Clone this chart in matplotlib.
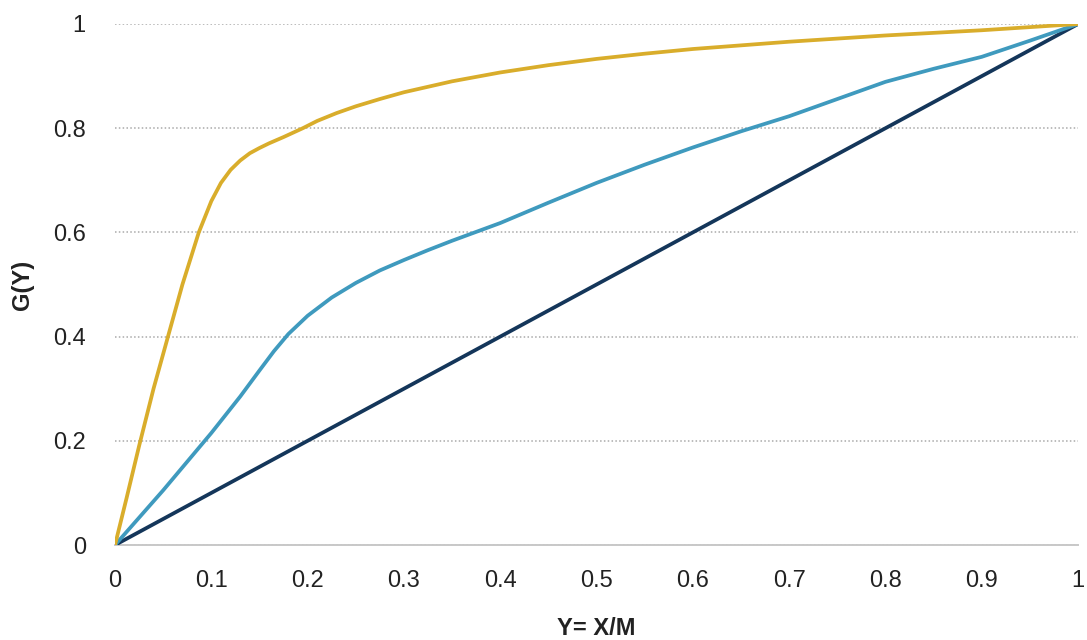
import matplotlib
matplotlib.use('Agg')
import matplotlib.pyplot as plt

# values
x_gold = [0, 0.012, 0.025, 0.04, 0.055, 0.07, 0.087, 0.1, 0.11, 0.12, 0.13, 0.14, 0.15,
          0.16, 0.175, 0.195, 0.21, 0.23, 0.25, 0.275, 0.3, 0.35, 0.4, 0.45, 0.5, 0.55,
          0.6, 0.7, 0.8, 0.9, 0.95, 1.0]
g_gold = [0, 0.09, 0.19, 0.30, 0.40, 0.50, 0.60, 0.66, 0.695, 0.72, 0.738, 0.752, 0.762,
          0.771, 0.783, 0.80, 0.814, 0.829, 0.842, 0.856, 0.869, 0.89, 0.907, 0.921, 0.933, 0.943,
          0.952, 0.966, 0.978, 0.988, 0.994, 1.0]

x_teal = [0, 0.05, 0.1, 0.13, 0.15, 0.165, 0.18, 0.2, 0.225, 0.25, 0.275, 0.3, 0.325, 0.35,
          0.4, 0.45, 0.5, 0.55, 0.6, 0.65, 0.7, 0.75, 0.8, 0.85, 0.9, 0.95, 1.0]
g_teal = [0, 0.105, 0.215, 0.285, 0.335, 0.372, 0.405, 0.44, 0.475, 0.503, 0.527, 0.547, 0.566, 0.584,
          0.618, 0.657, 0.695, 0.73, 0.763, 0.794, 0.823, 0.856, 0.889, 0.914, 0.937, 0.968, 1.0]

x_diag = [0, 1.0]
g_diag = [0, 1.0]

xticks = [0, 0.1, 0.2, 0.3, 0.4, 0.5, 0.6, 0.7, 0.8, 0.9, 1]
xtick_labels = ['0', '0.1', '0.2', '0.3', '0.4', '0.5', '0.6', '0.7', '0.8', '0.9', '1']
yticks = [0, 0.2, 0.4, 0.6, 0.8, 1]
ytick_labels = ['0', '0.2', '0.4', '0.6', '0.8', '1']

GOLD = '#D9AD2B'
TEAL = '#3F9ABE'
NAVY = '#14365A'

plt.rcParams['font.family'] = ['Liberation Sans', 'DejaVu Sans']

fig = plt.figure(figsize=(10.87, 6.40), dpi=100)
ax = fig.add_axes([0.1058, 0.1484, 0.886, 0.8141])

ax.plot(x_diag, g_diag, color=NAVY, lw=2.7, solid_capstyle='round', zorder=3)
ax.plot(x_teal, g_teal, color=TEAL, lw=2.7, solid_capstyle='round', zorder=4)
ax.plot(x_gold, g_gold, color=GOLD, lw=2.7, solid_capstyle='round', zorder=5)

ax.set_xlim(0, 1)
ax.set_ylim(0, 1)
ax.set_xticks(xticks)
ax.set_xticklabels(xtick_labels)
ax.set_yticks(yticks)
ax.set_yticklabels(ytick_labels)
ax.tick_params(axis='both', length=0, labelsize=17, colors='#222222')
ax.tick_params(axis='x', pad=18)
ax.tick_params(axis='y', pad=21)

ax.grid(axis='y', color='#aaaaaa', linestyle=(0, (1, 1.5)), linewidth=1.1)
ax.set_axisbelow(True)
for s in ['top', 'right', 'left']:
    ax.spines[s].set_visible(False)
ax.spines['bottom'].set_color('#c8c8c8')
ax.spines['bottom'].set_linewidth(1.4)

ax.set_xlabel('Y= X/M', fontsize=17, fontweight='bold', color='#222222', labelpad=18)
ax.set_ylabel('G(Y)', fontsize=17, fontweight='bold', color='#222222', labelpad=14)

plt.savefig('out.png', dpi=100)
